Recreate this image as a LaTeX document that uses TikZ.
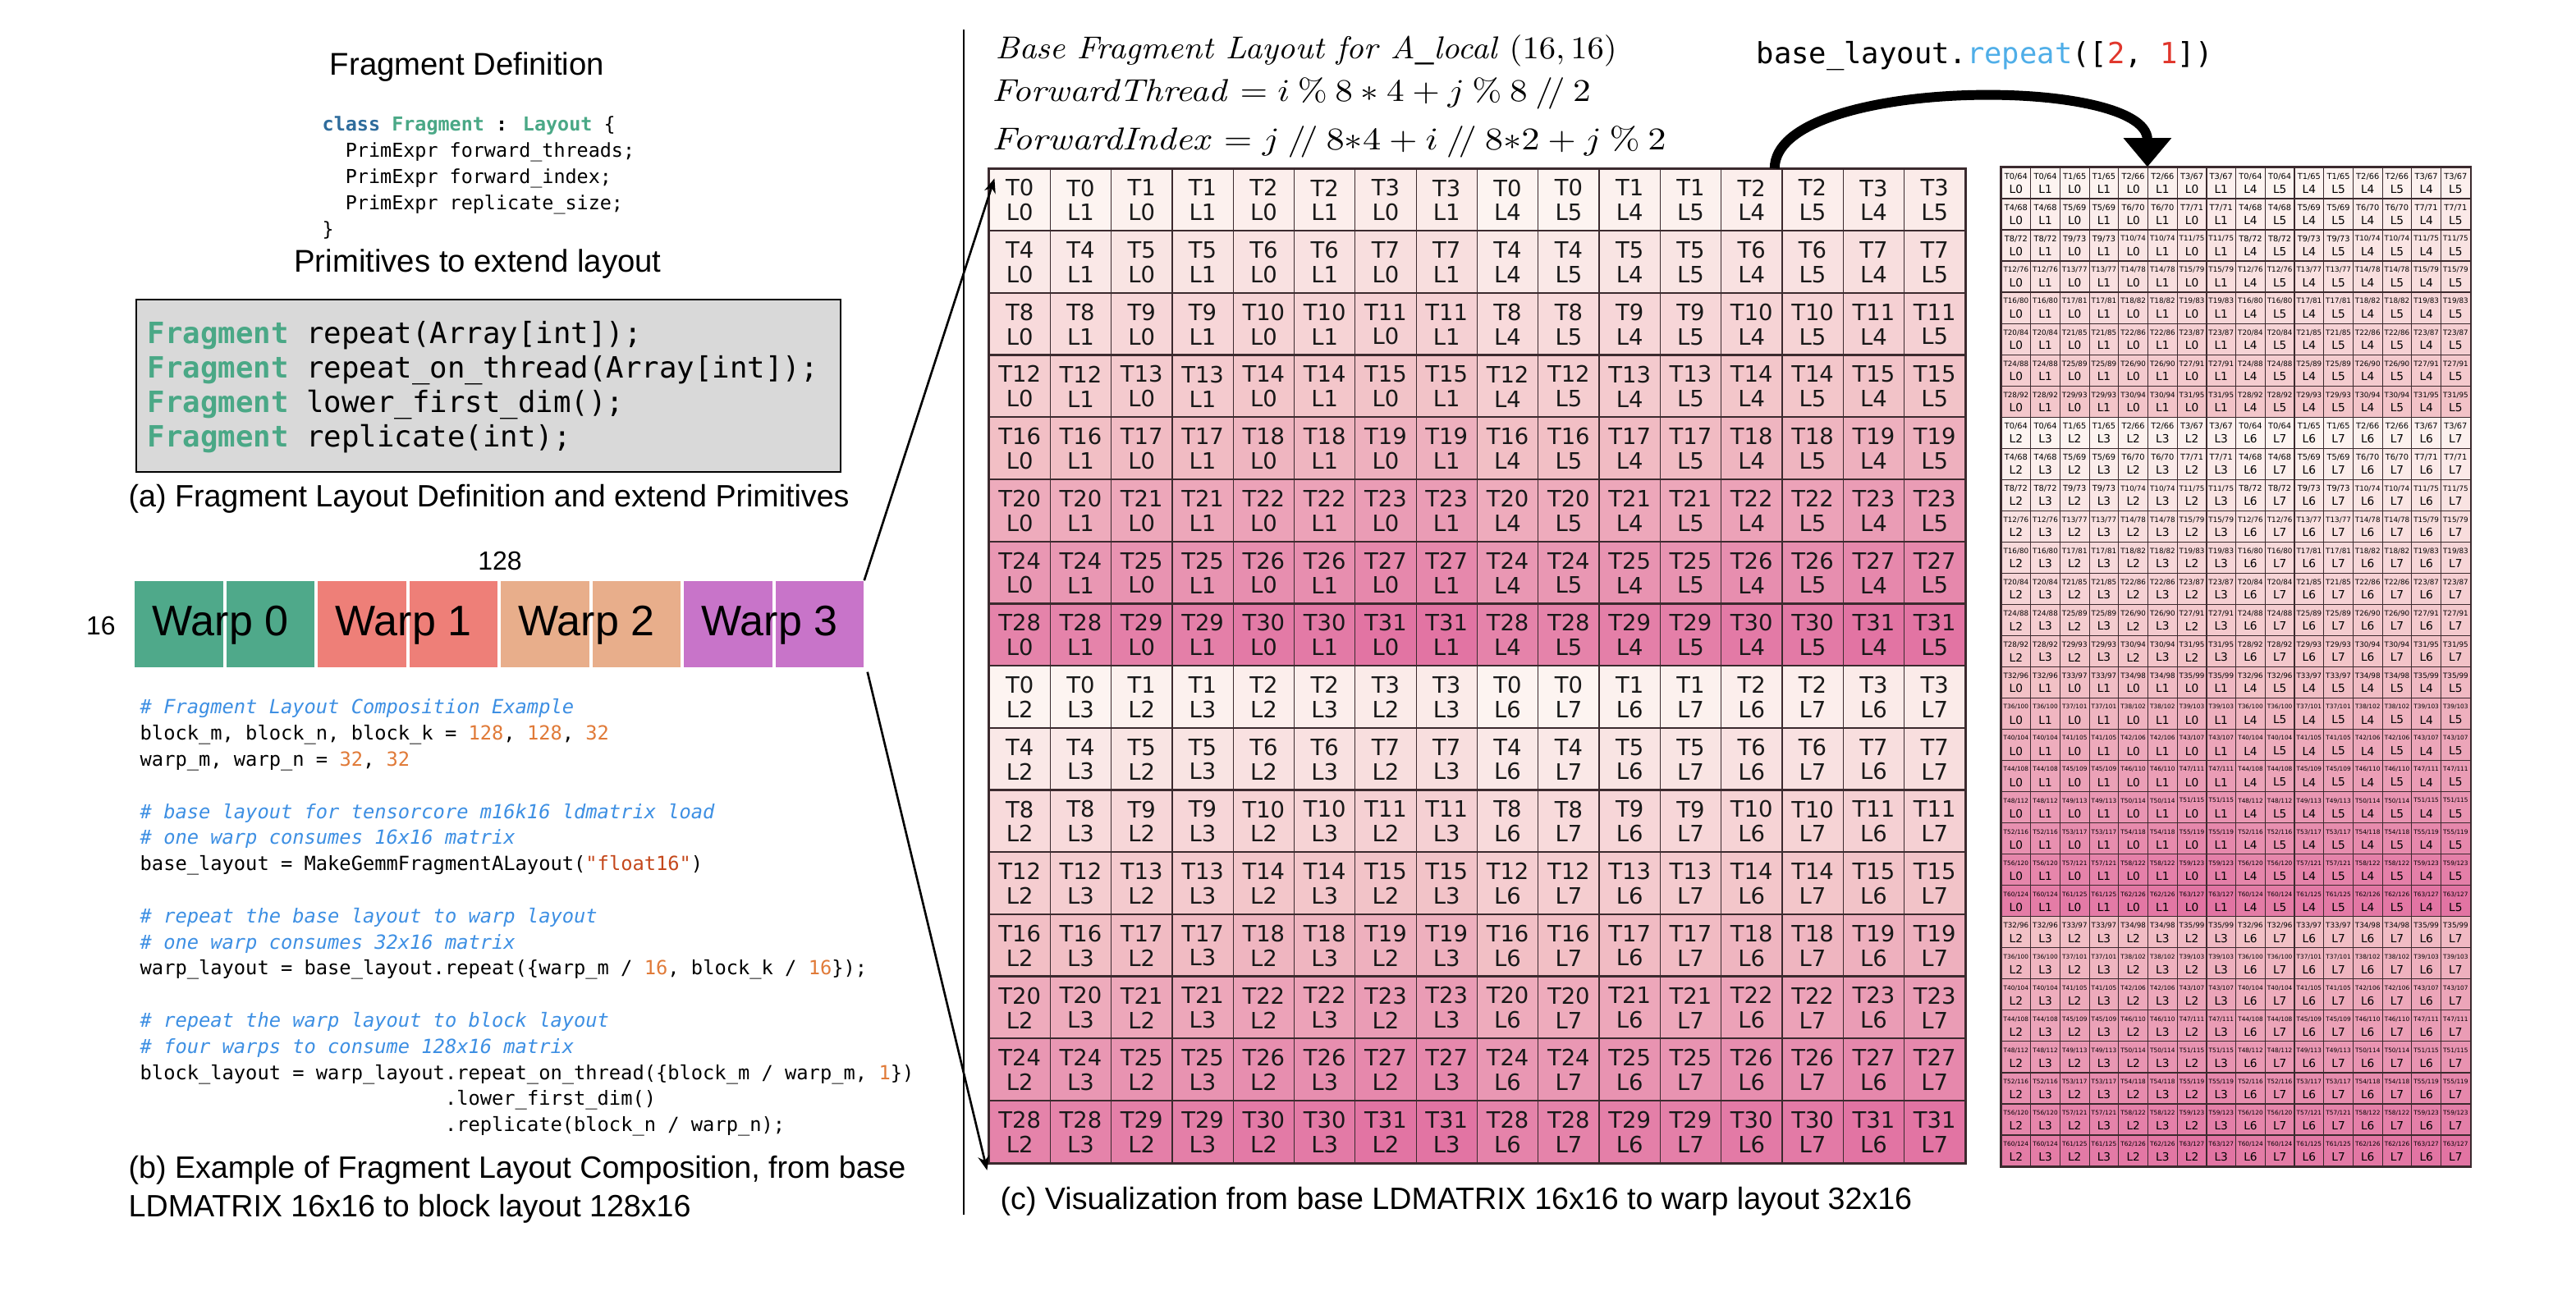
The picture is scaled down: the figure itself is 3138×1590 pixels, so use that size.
\documentclass[tikz,border=0pt]{standalone}
\usepackage[no-math]{fontspec}
\usepackage{graphicx}
\setmainfont{Liberation Sans}
\newfontfamily\cellfont{DejaVu Sans}
\newfontfamily\codefont{DejaVu Sans Mono}
\usetikzlibrary{arrows.meta}

\definecolor{warpA}{HTML}{4FA98A}
\definecolor{warpB}{HTML}{EE7F78}
\definecolor{warpC}{HTML}{E8AE8B}
\definecolor{warpD}{HTML}{C874C9}
\definecolor{fraggreen}{HTML}{4AA886}
\definecolor{kwblue}{HTML}{2F6C9C}
\definecolor{cmtblue}{HTML}{3D8FE3}
\definecolor{numorange}{HTML}{E07A38}
\definecolor{strred}{HTML}{C4471B}
\definecolor{callblue}{HTML}{4FAEE8}
\definecolor{argred}{HTML}{E0362C}
\definecolor{boxgray}{HTML}{D9D9D9}
\definecolor{pk0}{HTML}{FDF4F1}
\definecolor{pk1}{HTML}{F2C1C6}
\definecolor{pk2}{HTML}{E274A3}
\definecolor{gridline}{HTML}{3B2A2E}

\newcommand{\frag}{\textcolor{fraggreen}{\bfseries Fragment}}
\newcommand{\cmt}[1]{\textcolor{cmtblue}{\itshape\# #1}}
\newcommand{\num}[1]{\textcolor{numorange}{#1}}

\begin{document}
\begin{tikzpicture}[x=0.1mm, y=-0.1mm,
  caption/.style={font=\fontsize{10.7}{13.1}\selectfont, inner sep=0pt},
  heading/.style={font=\fontsize{10.9}{13}\selectfont, inner sep=0pt},
  code/.style={align=left, inner sep=0pt, anchor=north west},
  smallcode/.style={code, font=\codefont\fontsize{6.75}{9.05}\selectfont},
  primbox/.style={draw, line width=0.8pt, fill=boxgray, minimum width=85.8mm, minimum height=21mm, inner sep=0pt},
  warpcell/.style={minimum width=10.75mm, minimum height=10.5mm, inner sep=0pt},
  warplabel/.style={font=\fontsize{14.8}{16}\selectfont, inner sep=0pt},
  dimlabel/.style={font=\fontsize{9.1}{10}\selectfont, inner sep=0pt},
  formula/.style={font=\fontsize{10.8}{13}\selectfont, anchor=west, inner sep=0pt},
  bigcell/.style={draw=gridline, line width=0.35pt, minimum width=7.43mm, minimum height=7.57mm,
    inner sep=0pt, align=center, text=black!90, font=\cellfont\fontsize{7.8}{8.5}\selectfont},
  smallcell/.style={draw=gridline, line width=0.35pt, minimum width=3.57mm, minimum height=3.8mm, inner sep=0pt},
  zoomline/.style={line width=0.75pt, -{Stealth[length=5pt,width=4pt]}},
  repeatarrow/.style={line width=3.4pt, -{Triangle[width=16pt,length=10pt]}}]

\useasboundingbox (0,0) rectangle (3138,1590);

% (a) fragment definition
\node[heading] (fragdef) at (569,82) {Fragment Definition};
\node[smallcode, font=\codefont\fontsize{6.66}{9.1}\selectfont] (classdef) at (392,141)
  {\textcolor{kwblue}{\bfseries class} \textcolor{fraggreen}{\bfseries Fragment} \textbf{:} \textcolor{fraggreen}{\bfseries Layout} \{\\
   \hphantom{xx}PrimExpr forward\_threads;\\
   \hphantom{xx}PrimExpr forward\_index;\\
   \hphantom{xx}PrimExpr replicate\_size;\\
   \}};
\node[heading] (primtitle) at (582,322) {Primitives to extend layout};
\node[primbox] (box) at (595,470) {};
\node[code, font=\codefont\fontsize{10.16}{11.95}\selectfont] (prims) at (179,391)
  {\frag{} repeat(Array[int]);\\
   \frag{} repeat\_on\_thread(Array[int]);\\
   \frag{} lower\_first\_dim();\\
   \frag{} replicate(int);};
\node[caption, anchor=west] (capa) at (156,608) {(a) Fragment Layout Definition and extend Primitives};

% (b) warps of the block
\foreach \w/\col in {0/warpA,1/warpB,2/warpC,3/warpD} {
  \foreach \h in {0,1}
    \node[warpcell, fill=\col] (w\w-\h) at ({164+(2*\w+\h)*111.5+53.75},760.5) {};
  \node[warplabel] (wl\w) at ({164+(2*\w+1)*111.5-7},762) {Warp \w};
}
\node[dimlabel] (dimn) at (609,683) {128};
\node[dimlabel] (dimm) at (123,762) {16};

\node[smallcode] (example) at (170,851)
  {\cmt{Fragment Layout Composition Example}\\
   block\_m, block\_n, block\_k = \num{128}, \num{128}, \num{32}\\
   warp\_m, warp\_n = \num{32}, \num{32}\\
   \mbox{}\\
   \cmt{base layout for tensorcore m16k16 ldmatrix load}\\
   \cmt{one warp consumes 16x16 matrix}\\
   base\_layout = MakeGemmFragmentALayout(\textcolor{strred}{"float16"})\\
   \mbox{}\\
   \cmt{repeat the base layout to warp layout}\\
   \cmt{one warp consumes 32x16 matrix}\\
   warp\_layout = base\_layout.repeat(\{warp\_m / \num{16}, block\_k / \num{16}\});\\
   \mbox{}\\
   \cmt{repeat the warp layout to block layout}\\
   \cmt{four warps to consume 128x16 matrix}\\
   block\_layout = warp\_layout.repeat\_on\_thread(\{block\_m / warp\_m, \num{1}\})\\
   \hphantom{block\_layout = warp\_layout}.lower\_first\_dim()\\
   \hphantom{block\_layout = warp\_layout}.replicate(block\_n / warp\_n);};
\node[caption, code] (capb) at (156,1408)
  {(b) Example of Fragment Layout Composition, from base\\LDMATRIX 16x16 to block layout 128x16};

\coordinate (septop) at (1174,36);
\coordinate (sepbot) at (1174,1480);
\draw[line width=0.6pt] (septop) -- (sepbot);

% (c) base layout and its repeat
\node[formula] (basetitle) at (1212,62) {\resizebox{75.7mm}{\height}{$\mathit{Base\ Fragment\ Layout\ for\ A\_local}\ (16,16)$}};
\node[formula] (fwdthread) at (1208,114) {\resizebox{72.9mm}{\height}{$\mathit{ForwardThread} = i \mathbin{\%} 8 \ast 4 + j \mathbin{\%} 8 \mathbin{/\!/} 2$}};
\node[formula] (fwdindex) at (1208,173) {\resizebox{82.1mm}{\height}{$\mathit{ForwardIndex} = j \mathbin{/\!/} 8{*}4 + i \mathbin{/\!/} 8{*}2 + j \mathbin{\%} 2$}};

\foreach \r in {0,...,15} {
  \foreach \c in {0,...,15} {
    \pgfmathtruncatemacro\t{mod(\r,8)*4+div(mod(\c,8),2)}
    \pgfmathtruncatemacro\l{div(\c,8)*4+div(\r,8)*2+mod(\c,2)}
    \pgfmathtruncatemacro\p{100*\t/31}
    \ifnum\p<50 \edef\cc{pk1!\the\numexpr\p*2\relax!pk0}\else\edef\cc{pk2!\the\numexpr(\p-50)*2\relax!pk1}\fi
    \node[bigcell, fill=\cc] (m-\r-\c) at ({1205+(\c+0.5)*74.3},{206+(\r+0.5)*75.7}) {T\t\\L\l};
  }
}
% row rules are darker than the column rules
\foreach \r in {1,...,15}
  \draw[draw=gridline, line width=0.6pt] (m-\r-0.north west) -- (m-\r-15.north east);
\draw[draw=gridline, line width=0.8pt] (m-0-0.north west) rectangle (m-15-15.south east);

\foreach \r in {0,...,31} {
  \foreach \c in {0,...,15} {
    \pgfmathtruncatemacro\i{mod(\r,16)}
    \pgfmathtruncatemacro\t{mod(\i,8)*4+div(mod(\c,8),2)+32*div(\r,16)}
    \pgfmathtruncatemacro\l{div(\c,8)*4+div(\i,8)*2+mod(\c,2)}
    \pgfmathtruncatemacro\u{\t+64}
    \pgfmathtruncatemacro\p{100*\t/63}
    \ifnum\p<50 \edef\cc{pk1!\the\numexpr\p*2\relax!pk0}\else\edef\cc{pk2!\the\numexpr(\p-50)*2\relax!pk1}\fi
    \ifnum\t<10 \def\ts{2.8}\else\ifnum\t<36 \def\ts{2.5}\else\def\ts{2.1}\fi\fi
    \node[smallcell, fill=\cc] (s-\r-\c) at ({2438+(\c+0.5)*35.7},{204+(\r+0.5)*38.03}) {};
    \node[inner sep=0pt, font=\cellfont\fontsize{\ts}{3}\selectfont] at ([yshift=0.8mm]s-\r-\c.center) {T\t/\u};
    \node[inner sep=0pt, font=\cellfont\fontsize{3.9}{4.5}\selectfont] at ([yshift=-0.75mm]s-\r-\c.center) {L\l};
  }
}
\draw[draw=gridline, line width=0.7pt] (s-0-0.north west) rectangle (s-31-15.south east);

\node[inner sep=0pt, anchor=west, font=\codefont\fontsize{10.1}{12}\selectfont] (repeatcall) at (2139,68)
  {base\_layout.\textcolor{callblue}{repeat}([\textcolor{argred}{2}, \textcolor{argred}{1}])};
\coordinate (arcstart) at ([xshift=2.8mm]m-0-12.north);
\draw[repeatarrow] (arcstart) .. controls ++(0,-112) and ([yshift=11.2mm]s-0-5.north west) .. (s-0-5.north west);

\draw[zoomline] (w3-1.north east) -- ([shift={(7,12)}]m-0-0.north west);
\draw[zoomline] ([shift={(4,5)}]w3-1.south east) -- ([shift={(-2,8)}]m-15-0.south west);

\node[caption, anchor=west] (capc) at (1218,1464) {(c) Visualization from base LDMATRIX 16x16 to warp layout 32x16};
\end{tikzpicture}
\end{document}
